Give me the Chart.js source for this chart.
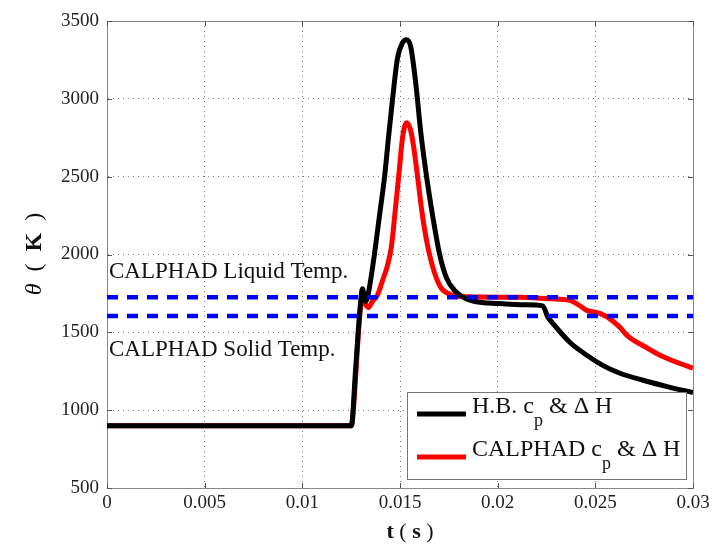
<!DOCTYPE html>
<html>
<head>
<meta charset="utf-8">
<script src="https://cdn.jsdelivr.net/npm/chart.js@4/dist/chart.umd.min.js"></script>
<style>
    html, body { margin: 0; padding: 0; background: #fff; }
    #wrap { width: 718px; height: 549px; position: relative; }
</style>
</head>
<body>
<div id="wrap"><canvas id="chart"></canvas></div>
<script>
// time (s) and temperature (K)
const hbTime = [0, 0.01251, 0.01272, 0.01292, 0.01308, 0.01323, 0.01333, 0.01349, 0.01369, 0.01395,
    0.01421, 0.01441, 0.01462, 0.01487, 0.01513, 0.01533, 0.01554, 0.01569, 0.01585, 0.01605,
    0.01636, 0.01667, 0.01703, 0.01738, 0.01779, 0.01831, 0.01882, 0.0201, 0.02138, 0.02231,
    0.02256, 0.02282, 0.02369, 0.02456, 0.02538, 0.02626, 0.02744, 0.02872, 0.0300];
const hbTemp = [900, 900, 1250, 1600, 1780, 1700, 1720, 1830, 2000, 2250,
    2500, 2750, 3000, 3260, 3360, 3380, 3340, 3220, 3050, 2800,
    2500, 2250, 2000, 1850, 1770, 1720, 1698, 1685, 1677, 1670,
    1600, 1558, 1436, 1353, 1288, 1237, 1192, 1150, 1113];

const caTime = [0, 0.01251, 0.01267, 0.01282, 0.01297, 0.01308, 0.01323, 0.01338, 0.01359, 0.01385,
    0.0141, 0.01436, 0.01456, 0.01477, 0.01497, 0.01513, 0.01533, 0.01554, 0.01569, 0.0159,
    0.01615, 0.01651, 0.01703, 0.01754, 0.01805, 0.02113, 0.02267, 0.02369, 0.0241, 0.02456,
    0.02523, 0.02564, 0.02626, 0.02662, 0.02764, 0.02831, 0.02933, 0.0300];
const caTemp = [900, 900, 1100, 1400, 1650, 1710, 1680, 1658, 1700, 1740,
    1830, 1930, 2050, 2300, 2550, 2750, 2846, 2800, 2700, 2500,
    2250, 2000, 1800, 1745, 1730, 1725, 1715, 1705, 1680, 1641,
    1622, 1596, 1532, 1481, 1400, 1353, 1300, 1270];

const liquidTemp = 1725;
const solidTemp = 1605;

const xTicks = [0, 0.005, 0.01, 0.015, 0.02, 0.025, 0.03];
const yTicks = [500, 1000, 1500, 2000, 2500, 3000, 3500];

const legendItems = [
    { name: "H.B.", color: "#000000" },
    { name: "CALPHAD", color: "#ff0000" }
];

const SERIF = '"Liberation Serif", "DejaVu Serif", serif';

function toPoints(xs, ys) {
    return xs.map((x, i) => ({ x: x, y: ys[i] }));
}

function drawParts(ctx, parts, x, y) {
    let cx = x;
    parts.forEach(p => {
        ctx.font = p.f;
        ctx.fillText(p.t, cx, y);
        cx += ctx.measureText(p.t).width;
    });
}

function partsWidth(ctx, parts) {
    let w = 0;
    parts.forEach(p => { ctx.font = p.f; w += ctx.measureText(p.t).width; });
    return w;
}

// inner tick marks, annotations, axis titles and legend box
const decorations = {
    id: "decorations",
    afterDatasetsDraw(chart) {
        const ctx = chart.ctx;
        const area = chart.chartArea;
        const xs = chart.scales.x;
        const ys = chart.scales.y;

        ctx.save();
        ctx.strokeStyle = "#555";
        ctx.lineWidth = 1;
        xTicks.forEach(v => {
            const px = Math.round(xs.getPixelForValue(v)) + 0.5;
            ctx.beginPath();
            ctx.moveTo(px, area.top); ctx.lineTo(px, area.top + 5);
            ctx.moveTo(px, area.bottom); ctx.lineTo(px, area.bottom - 5);
            ctx.stroke();
        });
        yTicks.forEach(v => {
            const py = Math.round(ys.getPixelForValue(v)) + 0.5;
            ctx.beginPath();
            ctx.moveTo(area.left, py); ctx.lineTo(area.left + 5, py);
            ctx.moveTo(area.right, py); ctx.lineTo(area.right - 5, py);
            ctx.stroke();
        });

        // threshold annotations
        ctx.fillStyle = "#111";
        ctx.font = "23px " + SERIF;
        ctx.textAlign = "left";
        ctx.textBaseline = "alphabetic";
        ctx.fillText("CALPHAD Liquid Temp.", 109, 278);
        ctx.fillText("CALPHAD Solid Temp.", 109, 356);

        // y title: θ ( K )
        ctx.save();
        ctx.translate(41, 254);
        ctx.rotate(-Math.PI / 2);
        const yParts = [
            { t: "θ", f: "italic 24px " + SERIF },
            { t: "  (  ", f: "24px " + SERIF },
            { t: "K", f: "bold 24px " + SERIF },
            { t: "  )", f: "24px " + SERIF }
        ];
        drawParts(ctx, yParts, -partsWidth(ctx, yParts) / 2, 0);
        ctx.restore();

        // x title: t ( s )
        const xParts = [
            { t: "t", f: "bold 22px " + SERIF },
            { t: " ( ", f: "22px " + SERIF },
            { t: "s", f: "bold 22px " + SERIF },
            { t: " )", f: "22px " + SERIF }
        ];
        drawParts(ctx, xParts, 410 - partsWidth(ctx, xParts) / 2, 538);

        // legend box
        const bx = 407, by = 392, bw = 279, bh = 87;
        ctx.fillStyle = "#fff";
        ctx.fillRect(bx, by, bw, bh);
        ctx.strokeStyle = "#777";
        ctx.lineWidth = 1;
        ctx.strokeRect(bx + 0.5, by + 0.5, bw, bh);
        legendItems.forEach((item, i) => {
            const ly = 414 + i * 43;
            ctx.strokeStyle = item.color;
            ctx.lineWidth = 5;
            ctx.beginPath();
            ctx.moveTo(417, ly); ctx.lineTo(466, ly);
            ctx.stroke();
            ctx.fillStyle = "#111";
            let tx = 472;
            const base = ly - 1;
            ctx.font = "24px " + SERIF;
            const head = item.name + " c";
            ctx.fillText(head, tx, base);
            tx += ctx.measureText(head).width;
            ctx.font = "18px " + SERIF;
            ctx.fillText("p", tx, base + 13);
            tx += ctx.measureText("p").width + 6;
            ctx.font = "24px " + SERIF;
            ctx.fillText("& Δ H", tx, base);
        });
        ctx.restore();
    }
};

new Chart(document.getElementById("chart"), {
    type: "line",
    data: {
        datasets: [
            {
                label: "liquid",
                data: [{ x: 0, y: liquidTemp }, { x: 0.03, y: liquidTemp }],
                borderColor: "#0000ff",
                borderWidth: 4.5,
                borderDash: [11, 9],
                pointRadius: 0
            },
            {
                label: "solid",
                data: [{ x: 0, y: solidTemp }, { x: 0.03, y: solidTemp }],
                borderColor: "#0000ff",
                borderWidth: 4.5,
                borderDash: [11, 9],
                pointRadius: 0
            },
            {
                label: "H.B. cp & ΔH",
                data: toPoints(hbTime, hbTemp),
                borderColor: "#000",
                borderWidth: 5,
                pointRadius: 0,
                cubicInterpolationMode: "monotone"
            },
            {
                label: "CALPHAD cp & ΔH",
                data: toPoints(caTime, caTemp),
                borderColor: "#ff0000",
                borderWidth: 5,
                pointRadius: 0,
                cubicInterpolationMode: "monotone"
            }
        ]
    },
    options: {
        responsive: true,
        maintainAspectRatio: false,
        animation: false,
        layout: { padding: { left: 0, right: 25, top: 21, bottom: 0 } },
        plugins: {
            legend: { display: false },
            tooltip: { enabled: false }
        },
        scales: {
            x: {
                type: "linear",
                min: 0,
                max: 0.03,
                afterBuildTicks: s => { s.ticks = xTicks.map(v => ({ value: v })); },
                afterFit: s => { s.height = 61; },
                ticks: {
                    color: "#222",
                    font: { family: SERIF, size: 19 },
                    padding: 4,
                    callback: v => String(v)
                },
                grid: { color: "#777", lineWidth: 1, drawTicks: false },
                border: { display: true, color: "#888", width: 1, dash: [1, 4] }
            },
            y: {
                min: 500,
                max: 3500,
                afterBuildTicks: s => { s.ticks = yTicks.map(v => ({ value: v })); },
                afterFit: s => { s.width = 107; },
                ticks: {
                    color: "#222",
                    font: { family: SERIF, size: 19 },
                    padding: 8,
                    callback: v => String(v)
                },
                grid: { color: "#777", lineWidth: 1, drawTicks: false },
                border: { display: true, color: "#888", width: 1, dash: [1, 4] }
            }
        }
    },
    plugins: [
        {
            id: "frame",
            beforeDatasetsDraw(chart) {
                const ctx = chart.ctx;
                const a = chart.chartArea;
                ctx.save();
                ctx.strokeStyle = "#888";
                ctx.lineWidth = 1;
                ctx.strokeRect(Math.round(a.left) + 0.5, Math.round(a.top) + 0.5,
                    Math.round(a.right - a.left), Math.round(a.bottom - a.top));
                ctx.restore();
            }
        },
        decorations
    ]
});
</script>
</body>
</html>
